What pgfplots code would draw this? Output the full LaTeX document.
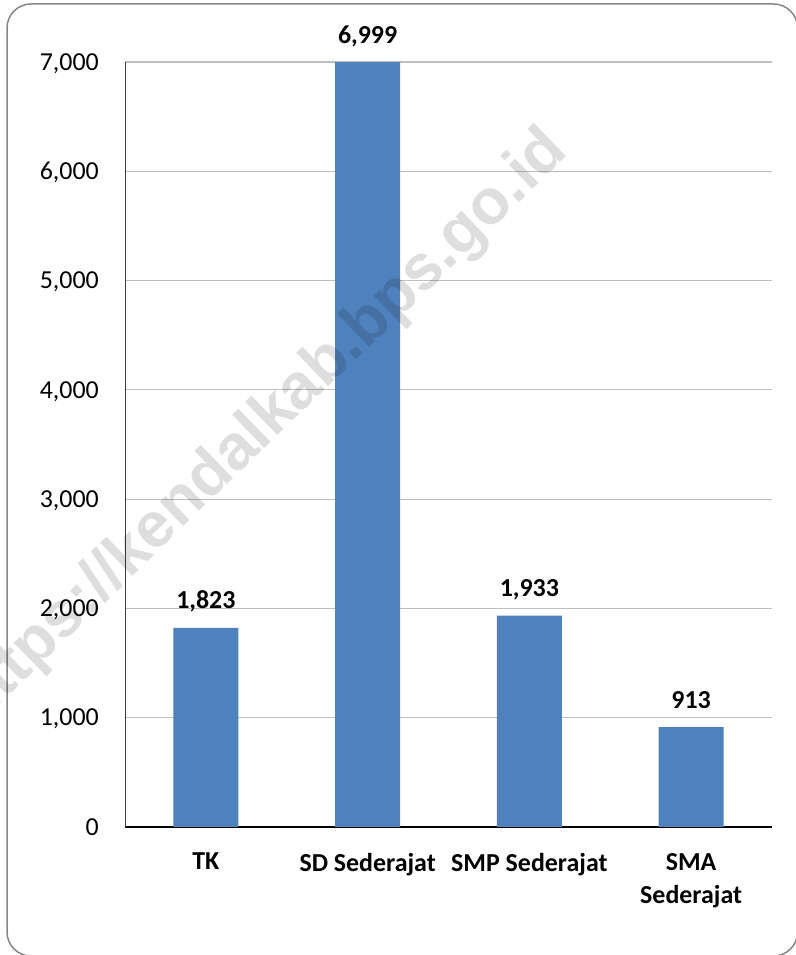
\documentclass[border=0pt]{standalone}
\usepackage{fontspec}
\setmainfont{Carlito}
\newfontfamily\wmfont{Liberation Sans}
\usepackage{pgfplots}
\pgfplotsset{compat=1.18}
\definecolor{barblue}{HTML}{4F81BD}
\definecolor{framegray}{HTML}{868686}
\begin{document}
\begin{tikzpicture}
\path[use as bounding box] (0,0) rectangle (796bp,955bp);
\begin{scope}
\clip (0,0) rectangle (796bp,955bp);
\fill[white] (0,0) rectangle (796bp,955bp);
\draw[framegray, line width=1.5bp, rounded corners=24bp] (7bp,-1bp) rectangle (797.5bp,951bp);
\begin{axis}[
  at={(125bp,128bp)}, anchor=south west,
  scale only axis, width=647bp, height=765bp,
  xmin=-0.5, xmax=3.5, ymin=0, ymax=7000,
  enlargelimits=false,
  ybar, bar width=65bp,
  axis lines=left, axis line style={-},
  x axis line style={black, line width=1.3bp},
  y axis line style={black!75, line width=1bp},
  ytick={0,1000,...,7000},
  xtick={0,1,2,3},
  xticklabels={TK, SD Sederajat, SMP Sederajat, {SMA\\Sederajat}},
  major tick length=0pt,
  ymajorgrids, grid style={color=black!25, line width=1.2bp},
  nodes near coords,
  nodes near coords style={font=\bfseries\fontsize{26}{31}\selectfont, anchor=base, yshift=19bp, inner sep=0pt, text=black},
  yticklabel style={font=\fontsize{26}{33}\selectfont, anchor=base east, inner sep=0pt, xshift=-26bp, yshift=-8.2bp},
  xticklabel style={font=\bfseries\fontsize{26}{33}\selectfont, align=center, anchor=north, inner sep=0pt, yshift=-26bp},
  /pgf/number format/1000 sep={,},
  /pgf/number format/assume math mode=true,
]
\addplot[fill=barblue, draw=none] coordinates {(0,1823) (1,6999) (2,1933) (3,913)};
\end{axis}
\node[font=\wmfont\bfseries\fontsize{64}{64}\selectfont, text=black, opacity=0.13, anchor=base west, rotate=44, inner sep=0pt] at (-24bp,228bp) {https://kendalkab.bps.go.id};
\end{scope}
\end{tikzpicture}
\end{document}
